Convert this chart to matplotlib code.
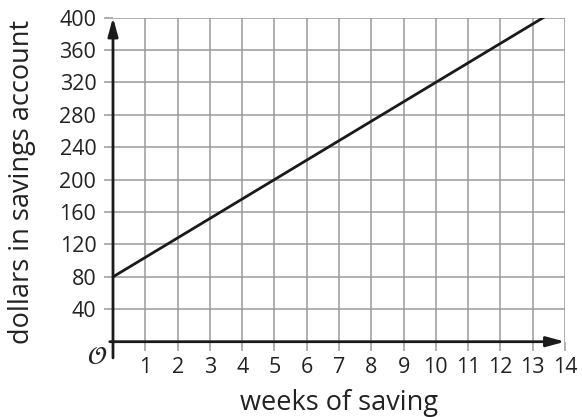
import matplotlib
matplotlib.use("Agg")
import matplotlib.pyplot as plt

weeks = [0, 5, 10, 13.333]
dollars = [80, 200, 320, 400]
x_ticks = list(range(1, 15))
y_ticks = list(range(40, 401, 40))
x_label = "weeks of saving"
y_label = "dollars in savings account"

plt.rcParams['font.family'] = ['Open Sans', 'DejaVu Sans']

fig = plt.figure(figsize=(5.82, 4.17), dpi=100)
ax = fig.add_axes([113/582, 1-341.7/417, 452/582, (341.7-17.5)/417])
ax.set_xlim(0, 14)
ax.set_ylim(0, 400)

grid_c = '#9a9a9a'
text_c = '#222222'
for s in ax.spines.values():
    s.set_visible(False)
ax.set_xticks(x_ticks)
ax.set_yticks(y_ticks)
ax.grid(True, color=grid_c, linewidth=1.1)
ax.tick_params(axis='both', color=grid_c, length=6.5, width=1.1, labelsize=15.5,
               labelcolor=text_c)
ax.tick_params(axis='y', pad=5.5)
ax.tick_params(axis='x', pad=4.5)
ax.set_axisbelow(True)

# axes arrows
ax.annotate('', xy=(14, 0), xytext=(-0.1, 0), xycoords='data',
            arrowprops=dict(arrowstyle='-|>,head_length=1.1,head_width=0.3', color='#1a1a1a', lw=2,
                            shrinkA=0, shrinkB=0), annotation_clip=False)
ax.annotate('', xy=(0, 400), xytext=(0, -20), xycoords='data',
            arrowprops=dict(arrowstyle='-|>,head_length=1.1,head_width=0.3', color='#1a1a1a', lw=2,
                            shrinkA=0, shrinkB=0), annotation_clip=False)

ax.plot(weeks, dollars, color='#1a1a1a', lw=2, clip_on=True, zorder=4)

fig.text(97/582, 1-357/417, r'$\mathcal{O}$', ha='center', va='center', fontsize=18, color=text_c)

fig.text(339/582, 7/417, x_label, ha='center', va='baseline', fontsize=19.5, color=text_c)
fig.text(22/582, 1-182/417, y_label, ha='center', va='center', rotation=90, fontsize=19.5,
         color=text_c)

fig.savefig('out.png', dpi=100)
